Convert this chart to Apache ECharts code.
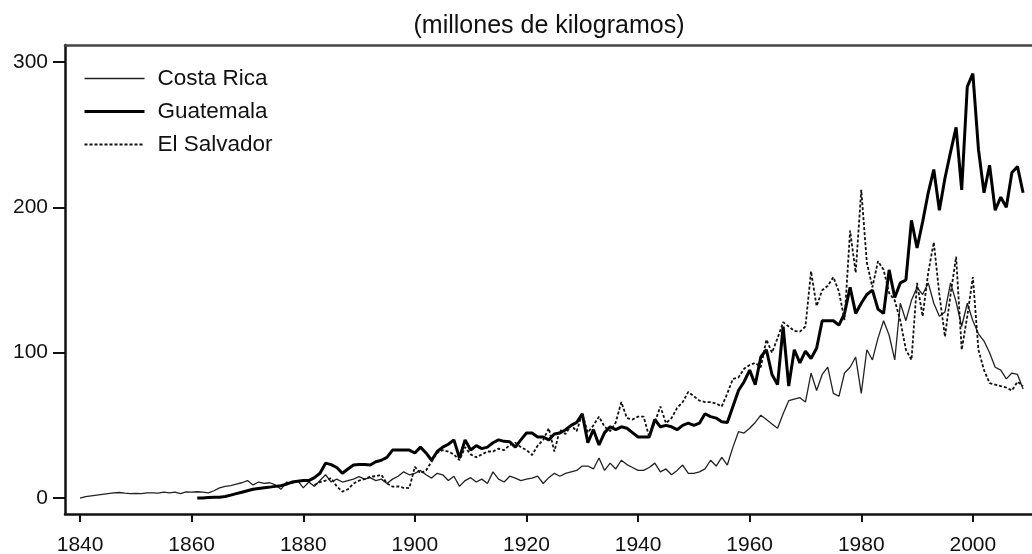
<!DOCTYPE html>
<html>
<head>
<meta charset="utf-8">
<script src="https://cdn.jsdelivr.net/npm/echarts@6/dist/echarts.min.js"></script>
<style>
  html, body { margin: 0; padding: 0; background: #fff; }
  #main { width: 1032px; height: 554px; }
</style>
</head>
<body>
<div id="main"></div>
<script>
// millones de kilogramos, one value per year
var costaRicaStart = 1840
var costaRica = [
    0, 1, 1.5, 2, 2.5, 3, 3.5, 3.8, 3.3, 3,
    3.2, 3, 3.5, 3.6, 3.4, 4, 3.5, 4, 3, 4.2,
    4, 4.3, 4, 3.5, 5, 7, 8, 8.5, 9.5, 10.5,
    12, 9, 11, 10, 10.5, 9, 6, 11, 10, 12,
    7, 11, 8, 12, 16, 11, 13, 11, 12, 13,
    14.7, 13, 14, 12, 13, 10, 13, 15, 18, 16,
    17, 19, 16, 13.7, 17, 16, 12, 15, 8, 12,
    14, 11, 13, 10, 18, 13, 11, 15, 13.7, 12,
    13, 13.7, 15, 10, 14, 17, 15, 17, 18, 19,
    22, 22, 20, 27.5, 19, 24, 20, 26, 23, 21,
    19, 19, 21, 24, 18, 20, 16, 19, 22.7, 17,
    17, 18, 20, 26, 22, 28, 22.7, 35, 45.6, 44.7,
    48, 52, 57, 54, 51, 48, 58, 67, 68, 69,
    66, 86, 74, 85, 90, 72, 70, 86, 90, 97,
    72, 102, 95, 110, 122, 112, 95, 134, 122, 136,
    145, 140, 148, 134, 125, 128, 148, 135, 118, 134,
    122, 113, 108, 100, 90, 88, 82, 86, 85, 75
]
var guatemalaStart = 1861
var guatemala = [
    0, 0, 0.3, 0.5, 0.6, 1, 2, 3, 4,
    5, 6, 6.5, 7, 7.5, 8, 8.5, 9.5, 11, 11.5,
    12, 12, 14, 17, 24, 23, 21, 17, 20, 22.7,
    23, 23, 22.7, 25, 26, 28, 33, 33, 33, 33,
    31, 35, 31, 26, 32, 35, 37, 40, 27.5, 40,
    33, 36, 34, 35, 38, 40, 39, 38.7, 35, 40,
    44.7, 44.7, 42, 42, 40, 44, 44.7, 47, 50, 52,
    58, 38, 47, 36.5, 45, 49, 47, 49, 48, 45,
    42, 42, 42, 54, 49, 50, 49, 47, 50, 51.5,
    50, 51.5, 58, 56, 55, 52.5, 52, 63, 74, 80,
    88, 78, 97, 102, 85, 78, 118, 77, 102, 93,
    101, 96, 103, 122, 122, 122, 119, 127, 145, 127,
    134, 140, 143, 130, 127, 157, 138, 148, 150, 191,
    172, 190, 210, 226, 198, 220, 238, 255, 212, 283,
    292, 240, 210, 229, 198, 207, 200, 224, 228, 210
]
var elSalvadorStart = 1882
var elSalvador = [
    9, 11, 12, 13.7, 8, 4.4, 6, 10,
    12, 13, 14.7, 15, 16, 10, 7.8, 8, 7, 6.8,
    21.5, 17, 19, 25, 31, 33, 32, 30, 26, 35,
    30, 28, 30, 32, 32, 34, 33, 36.5, 38, 35,
    33, 29.6, 36, 40, 48, 32, 47, 44, 50, 46,
    58, 45, 50, 56, 49, 46, 52, 66, 55, 54,
    56, 56, 42, 52, 63, 51.5, 55, 62, 66, 73,
    70, 67, 66, 66, 65, 63, 72, 82, 83, 89,
    91.5, 93, 90, 109, 100, 110, 121, 118, 115, 114.5,
    118, 156, 132, 143, 146, 152, 142, 122.5, 184, 155,
    212, 162, 145, 163, 157, 141, 136, 122, 102, 95,
    148, 125, 155, 176, 140, 111, 140, 166, 102, 125,
    152, 102, 88, 79, 78, 77, 76, 74, 80, 77
]
var xTicks = [1840, 1860, 1880, 1900, 1920, 1940, 1960, 1980, 2000]
var yTicks = [0, 100, 200, 300]

function toPairs(start, values) {
    return values.map(function (v, i) {
        return [start + i, v]
    })
}

var font = '"Liberation Sans", Arial, sans-serif'
var myChart = echarts.init(document.getElementById('main'))

var option = {
    animation: false,
    title: {
        text: '(millones de kilogramos)',
        left: 544,
        textAlign: 'center',
        top: 9,
        textStyle: {
            fontFamily: font,
            fontSize: 25,
            fontWeight: 'normal',
            color: '#111'
        }
    },
    legend: {
        orient: 'vertical',
        left: 78,
        top: 62,
        itemWidth: 60,
        itemHeight: 14,
        itemGap: 10,
        selectedMode: false,
        itemStyle: { opacity: 0 },
        textStyle: {
            fontFamily: font,
            fontSize: 22.5,
            color: '#111',
            padding: [0, 0, 0, 8]
        },
        data: [
            { name: 'Costa Rica', lineStyle: { width: 1.3 } },
            { name: 'Guatemala', lineStyle: { width: 3 } },
            { name: 'El Salvador', lineStyle: { width: 1.8 } }
        ]
    },
    grid: {
        left: 65,
        right: 0,
        top: 45,
        bottom: 40,
        outerBoundsMode: 'none'
    },
    xAxis: [{
        type: 'value',
        min: 1837.3,
        max: 2010.6,
        splitLine: { show: false },
        axisLine: {
            onZero: false,
            lineStyle: { color: '#111', width: 2.5 }
        },
        axisTick: {
            length: 8,
            customValues: xTicks,
            lineStyle: { color: '#111', width: 2 }
        },
        axisLabel: {
            customValues: xTicks,
            margin: 21,
            fontFamily: font,
            fontSize: 21,
            color: '#111',
            formatter: function (v) {
                return String(v)
            }
        }
    }, {
        type: 'value',
        position: 'top',
        min: 1837.3,
        max: 2010.6,
        splitLine: { show: false },
        axisLine: {
            show: true,
            onZero: false,
            lineStyle: { color: '#444', width: 2.5 }
        },
        axisTick: { show: false },
        axisLabel: { show: false }
    }],
    yAxis: {
        type: 'value',
        min: -11,
        max: 311.7,
        splitLine: { show: false },
        axisLine: {
            show: true,
            onZero: false,
            lineStyle: { color: '#111', width: 2.5 }
        },
        axisTick: {
            show: true,
            length: 12,
            customValues: yTicks,
            lineStyle: { color: '#111', width: 2 }
        },
        axisLabel: {
            customValues: yTicks,
            margin: 17,
            fontFamily: font,
            fontSize: 21,
            color: '#111'
        }
    },
    series: [{
        name: 'Costa Rica',
        type: 'line',
        symbol: 'none',
        data: toPairs(costaRicaStart, costaRica),
        lineStyle: { color: '#222', width: 1.3 },
        itemStyle: { color: '#222' }
    }, {
        name: 'Guatemala',
        type: 'line',
        symbol: 'none',
        data: toPairs(guatemalaStart, guatemala),
        lineStyle: { color: '#000', width: 3 },
        itemStyle: { color: '#000' }
    }, {
        name: 'El Salvador',
        type: 'line',
        symbol: 'none',
        data: toPairs(elSalvadorStart, elSalvador),
        lineStyle: { color: '#111', width: 1.8, type: [3, 2] },
        itemStyle: { color: '#111' }
    }]
}

myChart.setOption(option)
</script>
</body>
</html>
